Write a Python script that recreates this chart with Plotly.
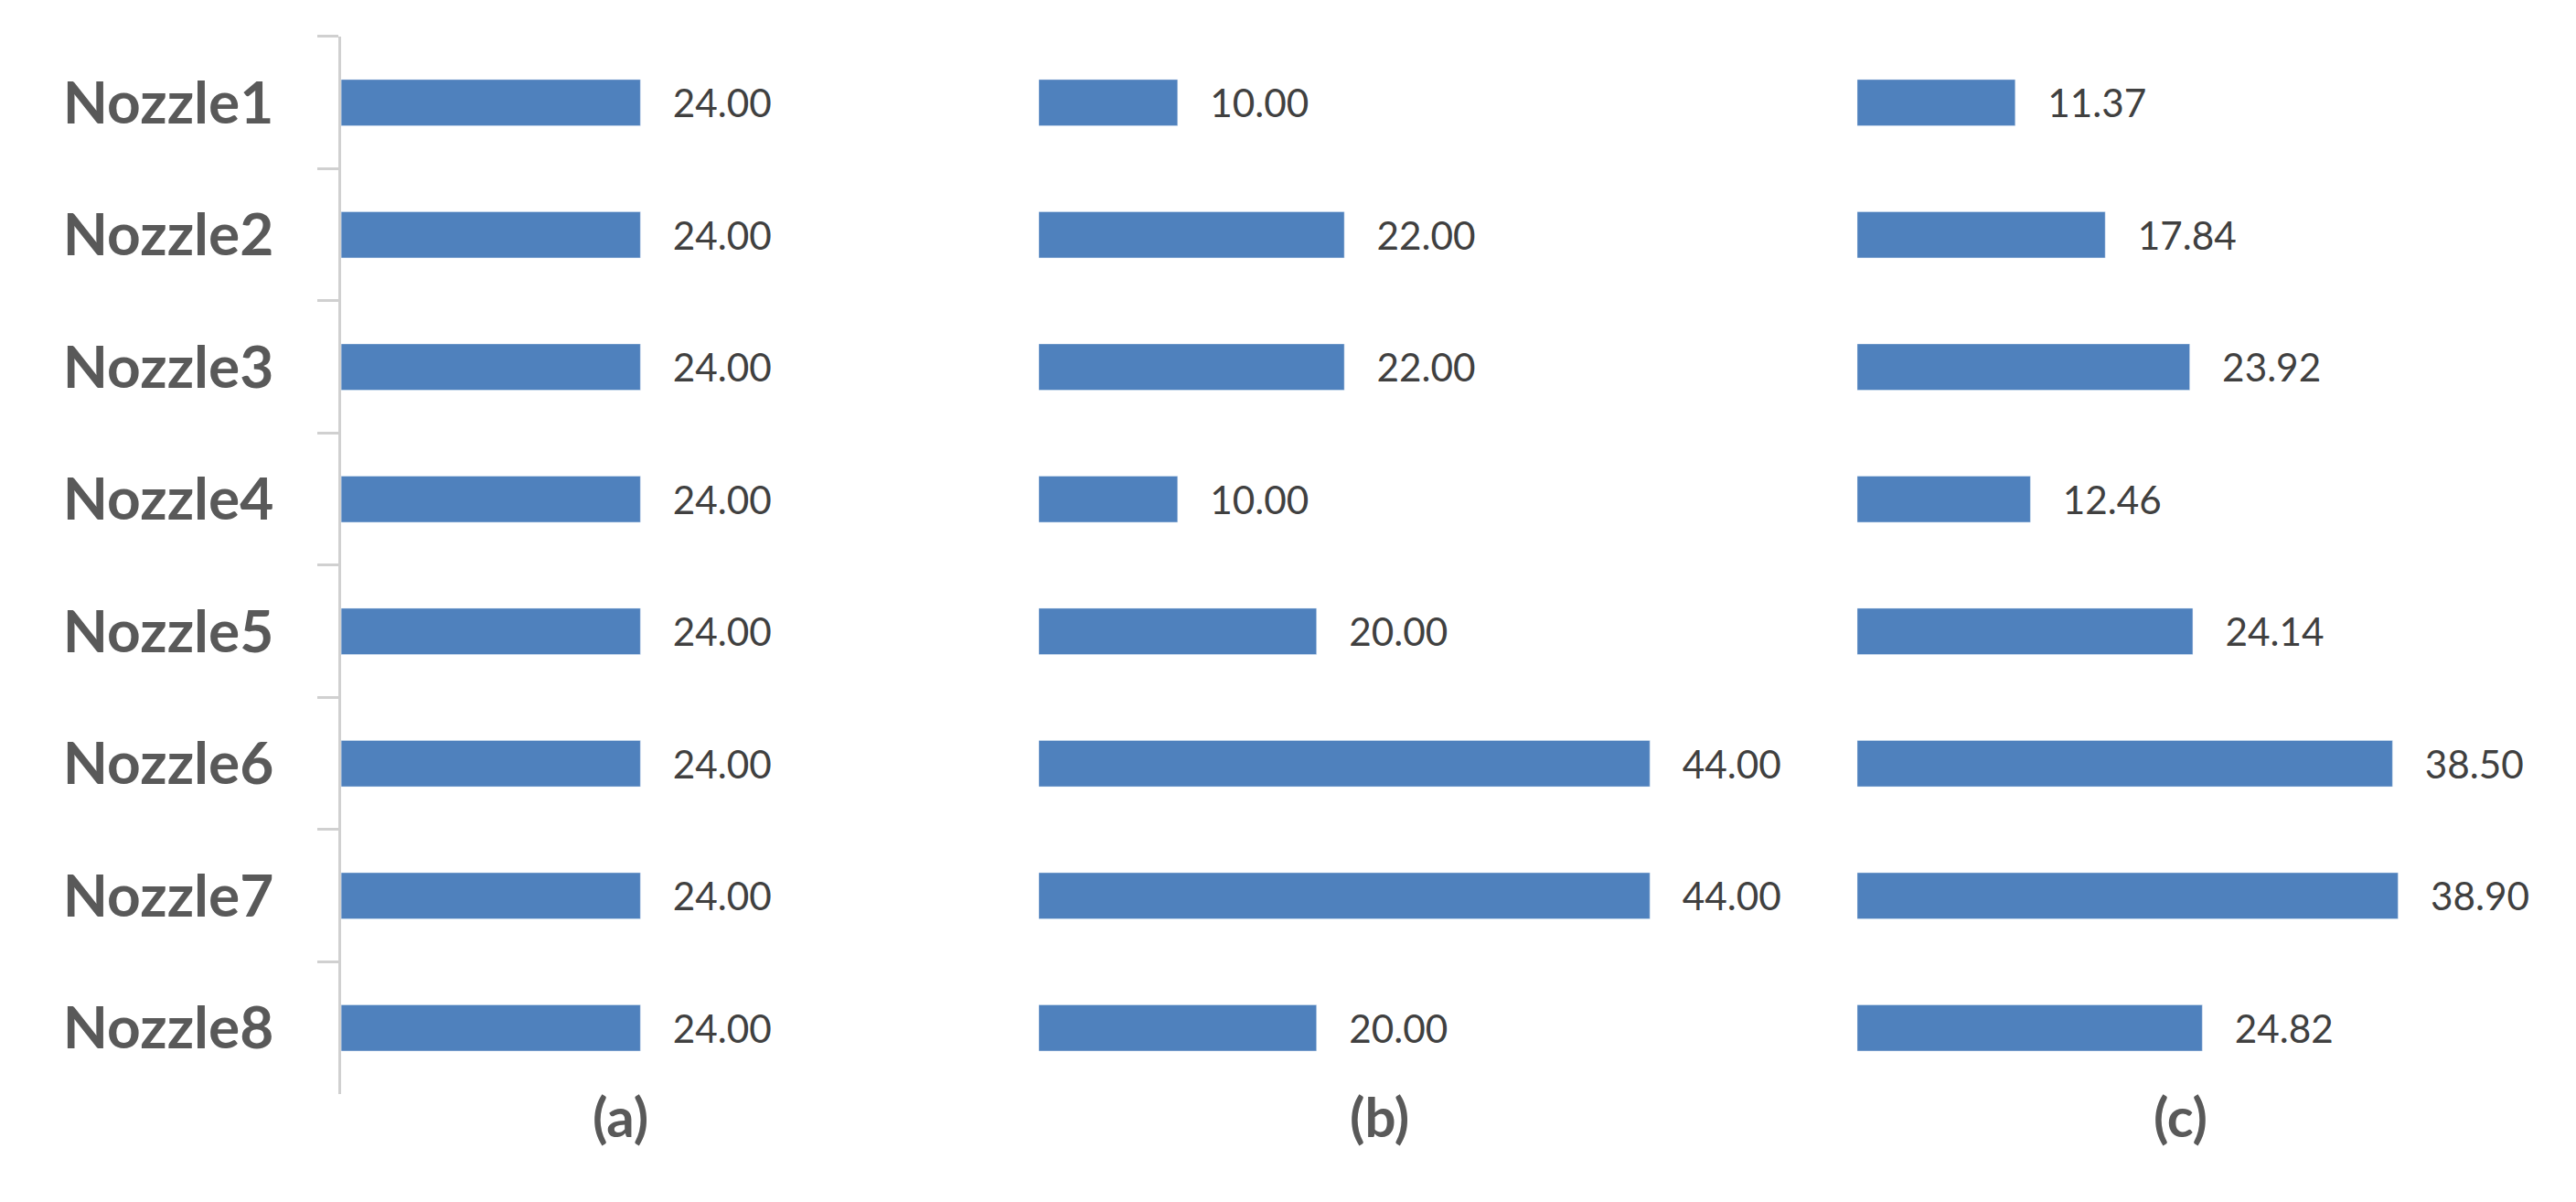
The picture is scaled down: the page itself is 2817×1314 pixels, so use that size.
import plotly.graph_objects as go

nozzles = [f"Nozzle{i}" for i in range(1, 9)]
vals_a = [24.00, 24.00, 24.00, 24.00, 24.00, 24.00, 24.00, 24.00]
vals_b = [10.00, 22.00, 22.00, 10.00, 20.00, 44.00, 44.00, 20.00]
vals_c = [11.37, 17.84, 23.92, 12.46, 24.14, 38.50, 38.90, 24.82]
panel_labels = ["(a)", "(b)", "(c)"]

BAR = "#4F81BD"
TXT = "#404040"
FONT = "Lato, Liberation Sans, sans-serif"

fig = go.Figure()
domains = [(0.1296, 0.2748, 30), (0.4004, 0.670, 50), (0.7181, 0.988, 50)]
label_x = [355, 835, 1340]
series = [vals_a, vals_b, vals_c]
for i, (vals, (d0, d1, rng)) in enumerate(zip(series, domains)):
    xa = "x" if i == 0 else f"x{i+1}"
    ya = "y" if i == 0 else f"y{i+1}"
    fig.add_trace(go.Bar(x=vals, y=nozzles, orientation="h", marker_color=BAR,
                         text=[f"   {v:.2f}" for v in vals], textposition="outside",
                         textfont=dict(size=51, color=TXT, family=FONT),
                         cliponaxis=False, xaxis=xa, yaxis=ya, showlegend=False))
    key = "" if i == 0 else str(i + 1)
    fig.layout["xaxis" + key] = dict(domain=[d0, d1], range=[0, rng], visible=False,
                                     anchor=ya)
    yax = dict(domain=[0.0959, 0.9757], autorange="reversed", anchor=xa,
               automargin=False)
    if i == 0:
        yax.update(showline=True, linecolor="#D0D0D0", linewidth=3,
                   ticks="outside", tickson="boundaries", ticklen=23,
                   tickcolor="#D0D0D0", tickwidth=3, ticklabelstandoff=58,
                   tickfont=dict(size=64, color="#595959", family=FONT, weight="bold"))
    else:
        yax.update(showticklabels=False, showline=False, ticks="")
    fig.layout["yaxis" + key] = yax
    fig.add_annotation(text=panel_labels[i], xref="paper", yref="paper",
                       x=label_x[i] * 1.797 / 2817, y=0.049, showarrow=False,
                       font=dict(size=60, color="#595959", family=FONT, weight="bold"))

fig.update_layout(width=2817, height=1314, margin=dict(l=0, r=0, t=0, b=0),
                  plot_bgcolor="white", paper_bgcolor="white", bargap=0.65)
fig.write_html("out.html")
